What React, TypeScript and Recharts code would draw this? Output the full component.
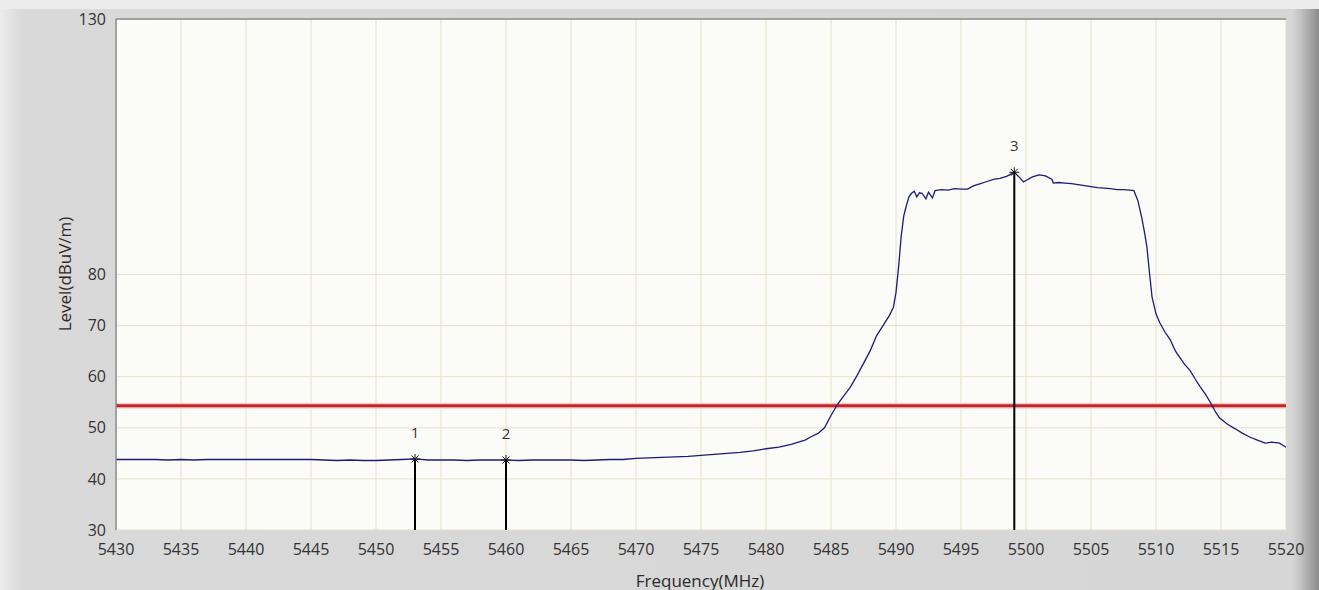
import { ComposedChart, Line, XAxis, YAxis, CartesianGrid, ReferenceLine, Scatter } from 'recharts';

// trace
const FREQS = [
  5430, 5431, 5432, 5433, 5434, 5435, 5436, 5437, 5438, 5439,
  5440, 5441, 5442, 5443, 5444, 5445, 5446, 5447, 5448, 5449,
  5450, 5451, 5452, 5453, 5454, 5455, 5456, 5457, 5458, 5459,
  5460, 5461, 5462, 5463, 5464, 5465, 5466, 5467, 5468, 5469,
  5470, 5471, 5472, 5473, 5474, 5475, 5476, 5477, 5478, 5479,
  5480, 5481, 5482, 5482.5, 5483, 5483.5, 5484, 5484.5, 5485, 5485.5,
  5486, 5486.5, 5487, 5487.5, 5488, 5488.5, 5489, 5489.5, 5489.8, 5490,
  5490.2, 5490.4, 5490.6, 5490.8, 5491, 5491.2, 5491.4, 5491.6, 5491.8, 5492,
  5492.3, 5492.5, 5492.8, 5493, 5493.5, 5494, 5494.5, 5495, 5495.5, 5496, 5496.5,
  5497, 5497.5, 5498, 5498.5, 5499.1, 5499.5, 5499.8, 5500, 5500.5, 5501, 5501.5,
  5502, 5502.1, 5502.5, 5503, 5503.5, 5504, 5504.5, 5505, 5505.5, 5506, 5506.5,
  5507, 5507.5, 5508, 5508.3, 5508.6, 5508.9, 5509.1, 5509.3, 5509.5, 5509.7,
  5510, 5510.3, 5510.7, 5511.1, 5511.5, 5511.8, 5512.2, 5512.6, 5513, 5513.4,
  5513.8, 5514.2, 5514.6, 5514.9, 5515.5, 5516.1, 5516.6, 5517.2, 5517.8, 5518.4,
  5518.9, 5519.5, 5520,
];
const LEVELS = [
  43.8, 43.8, 43.8, 43.8, 43.7, 43.8, 43.7, 43.8, 43.8, 43.8,
  43.8, 43.8, 43.8, 43.8, 43.8, 43.8, 43.7, 43.6, 43.7, 43.6,
  43.6, 43.7, 43.8, 43.9, 43.7, 43.7, 43.7, 43.6, 43.7, 43.7,
  43.7, 43.6, 43.7, 43.7, 43.7, 43.7, 43.6, 43.7, 43.8, 43.8,
  44.0, 44.1, 44.2, 44.3, 44.4, 44.6, 44.8, 45.0, 45.2, 45.5,
  45.9, 46.2, 46.8, 47.2, 47.6, 48.3, 48.9, 50.0, 52.4, 54.6,
  56.3, 58.0, 60.2, 62.6, 65.0, 68.0, 70.0, 72.0, 73.6, 76.5,
  81.5, 87.5, 91.5, 93.5, 95.2, 95.9, 96.3, 95.2, 96.0, 95.9,
  94.8, 96.1, 95.0, 96.4, 96.6, 96.5, 96.8, 96.7, 96.7, 97.4, 97.8,
  98.2, 98.6, 98.8, 99.2, 100.0, 99.0, 98.1, 98.4, 99.1, 99.5, 99.3,
  98.6, 97.9, 98.0, 97.9, 97.8, 97.6, 97.4, 97.2, 97.0, 96.9, 96.8,
  96.6, 96.6, 96.5, 96.4, 94.5, 91.2, 88.5, 85.4, 80.3, 75.5,
  72.3, 70.5, 68.7, 67.2, 65.0, 63.9, 62.4, 61.3, 59.6, 58.0,
  56.6, 54.9, 53.0, 51.9, 50.7, 49.8, 49.0, 48.2, 47.6, 47.0,
  47.2, 47.0, 46.2,
];

const X_TICKS = [5430, 5435, 5440, 5445, 5450, 5455, 5460, 5465, 5470, 5475, 5480, 5485, 5490, 5495, 5500, 5505, 5510, 5515, 5520];
const Y_TICKS = [30, 40, 50, 60, 70, 80, 130];
const LIMIT = 54.3;

const MARKER_IDS = ['1', '2', '3'];
const MARKER_FREQS = [5453, 5460, 5499.1];
const MARKER_LEVELS = [43.9, 43.7, 100.0];

const FONT = '"Open Sans", "Noto Sans", sans-serif';

const trace = FREQS.map((f, i) => ({ f, level: LEVELS[i] }));
const markers = MARKER_IDS.map((id, i) => ({ id, f: MARKER_FREQS[i], level: MARKER_LEVELS[i] }));

const MarkerShape = (props: any) => {
  const { cx, cy, payload } = props;
  const r = 5;
  const d = 3.5;
  return (
    <g>
      <line x1={cx - r} y1={cy} x2={cx + r} y2={cy} stroke="#111" strokeWidth={1} />
      <line x1={cx} y1={cy - r} x2={cx} y2={cy + r} stroke="#111" strokeWidth={1} />
      <line x1={cx - d} y1={cy - d} x2={cx + d} y2={cy + d} stroke="#111" strokeWidth={1} />
      <line x1={cx - d} y1={cy + d} x2={cx + d} y2={cy - d} stroke="#111" strokeWidth={1} />
      <text x={cx} y={cy - 27} textAnchor="middle" dominantBaseline="central" fontSize={15} fontFamily={FONT} fill="#333">
        {payload.id}
      </text>
    </g>
  );
};

export default function App() {
  return (
    <div
      style={{
        position: 'absolute',
        left: 0,
        top: 0,
        width: 1319,
        height: 590,
        background: 'linear-gradient(to right, #ececec 0px, #d9d9d9 22px, #d6d6d6 1292px, #c4c4c4 1300px, #8c8c8c 1319px)',
      }}
    >
      <div style={{ position: 'absolute', left: 0, top: 0, width: 1319, height: 9, background: '#ececec' }} />
      <ComposedChart
        width={1319}
        height={590}
        data={trace}
        margin={{ top: 19, right: 33, bottom: 20, left: 0 }}
        style={{ position: 'absolute', left: 0, top: 0 }}
      >
        <CartesianGrid fill="#fbfbf8" stroke="#e6e1cb" strokeWidth={1} horizontalValues={Y_TICKS} verticalValues={X_TICKS} />
        <XAxis
          type="number"
          dataKey="f"
          domain={[5430, 5520]}
          ticks={X_TICKS}
          interval={0}
          height={40}
          axisLine={false}
          tickLine={false}
          tickMargin={8}
          tick={{ fontSize: 16, fontFamily: FONT, fill: '#333' }}
          label={{
            content: () => (
              <text x={700} y={580} textAnchor="middle" dominantBaseline="central" fontSize={17} fontFamily={FONT} fill="#2a2a2a">
                Frequency(MHz)
              </text>
            ),
          }}
        />
        <YAxis
          type="number"
          domain={[30, 130]}
          ticks={Y_TICKS}
          interval={0}
          width={116}
          axisLine={{ stroke: '#8a8a8a', strokeWidth: 1.5 }}
          tickLine={false}
          tickMargin={4}
          tick={{ fontSize: 16, fontFamily: FONT, fill: '#333' }}
          label={{
            content: () => (
              <text
                x={64}
                y={274}
                transform="rotate(-90 64 274)"
                textAnchor="middle"
                dominantBaseline="central"
                fontSize={17}
                fontFamily={FONT}
                fill="#2a2a2a"
              >
                Level(dBuV/m)
              </text>
            ),
          }}
        />
        <ReferenceLine y={130} stroke="#8a8a8a" strokeWidth={1.5} />
        <ReferenceLine y={LIMIT} stroke="#f5cccc" strokeWidth={6} />
        <ReferenceLine y={LIMIT} stroke="#c42428" strokeWidth={3} />
        {markers.map((m) => (
          <ReferenceLine
            key={m.id}
            segment={[{ x: m.f, y: m.level }, { x: m.f, y: 30 }]}
            stroke="#000"
            strokeWidth={2}
          />
        ))}
        <Line
          type="linear"
          dataKey="level"
          stroke="#1c1c7a"
          strokeWidth={1.3}
          dot={false}
          isAnimationActive={false}
        />
        <Scatter data={markers} dataKey="level" shape={MarkerShape} isAnimationActive={false} />
      </ComposedChart>
    </div>
  );
}
